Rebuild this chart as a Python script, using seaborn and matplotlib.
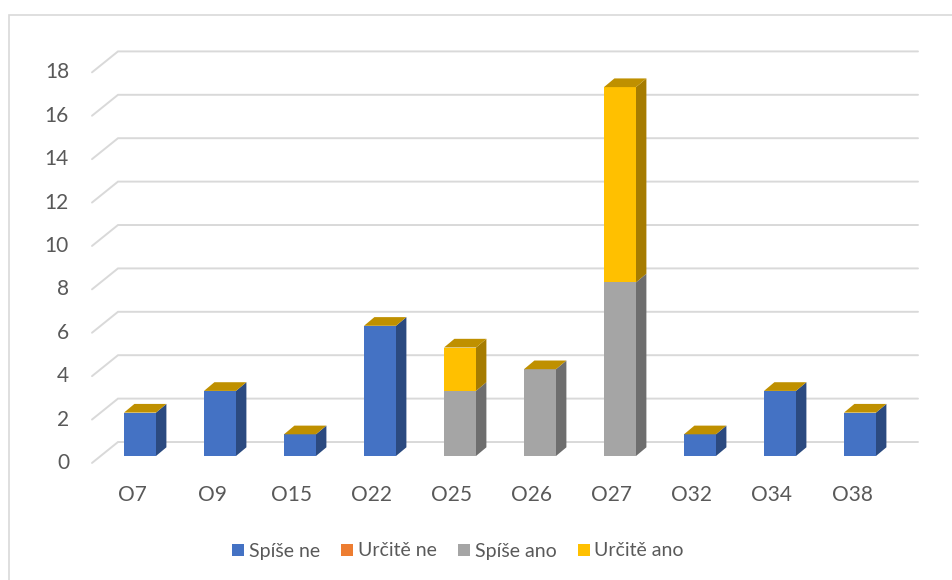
import numpy as np
import pandas as pd
import matplotlib
matplotlib.use("Agg")
import matplotlib.pyplot as plt
from matplotlib.patches import Polygon, Rectangle
from matplotlib.lines import Line2D
import seaborn as sns

# ---- data ----
categories = ["O7", "O9", "O15", "O22", "O25", "O26", "O27", "O32", "O34", "O38"]
spise_ne = [2, 3, 1, 6, 0, 0, 0, 1, 3, 2]
urcite_ne = [0, 0, 0, 0, 0, 0, 0, 0, 0, 0]
spise_ano = [0, 0, 0, 0, 3, 4, 8, 0, 0, 0]
urcite_ano = [0, 0, 0, 0, 2, 0, 9, 0, 0, 0]
series_names = ["Spíše ne", "Určitě ne", "Spíše ano", "Určitě ano"]
y_ticks = [0, 2, 4, 6, 8, 10, 12, 14, 16, 18]

# ---- styling ----
front_colors = ["#4472C4", "#ED7D31", "#A5A5A5", "#FFC000"]
side_colors = ["#2B4A80", "#9E5220", "#6E6E6E", "#A67C00"]
top_color = "#BF9000"
grid_color = "#D9D9D9"
text_color = "#595959"
font = ["Lato", "DejaVu Sans"]
fs = 15

sns.set_theme(style="white")
plt.rcParams["font.family"] = font

W, H = 953, 580
fig = plt.figure(figsize=(W / 100, H / 100), dpi=100)
ax = fig.add_axes([0, 0, 1, 1])

# pixel mapping: x_px = 140 + 80 * x ; y_px = 456 - 21.7 * v
X0, XS = 140.0, 80.0
Y0, YS = 456.0, 21.7
px = lambda p: (p - X0) / XS
py = lambda p: (Y0 - p) / YS

bar_w = 0.4
depth_x, depth_y = 0.13, 0.40          # bar depth (perspective offset)
front_dy, back_dy = -0.32, 0.645      # floor front / back wall offsets
x_front, x_back, x_right = px(92), px(118), px(918)

# back wall gridlines with the side-wall diagonals
for v in y_ticks:
    ax.plot([x_front, x_back, x_right], [v + front_dy, v + back_dy, v + back_dy],
            color=grid_color, lw=1.4, solid_joinstyle="miter", zorder=1)
    ax.text(px(69), v + front_dy, str(v), ha="right", va="center",
            fontsize=fs, color=text_color)

# front faces of the stacked bars
data = pd.DataFrame({"cat": categories, "Spíše ne": spise_ne, "Určitě ne": urcite_ne,
                     "Spíše ano": spise_ano, "Určitě ano": urcite_ano})
bottoms = np.zeros(len(categories))
for name, col in zip(series_names, front_colors):
    vals = data[name].to_numpy(dtype=float)
    sns.barplot(x=data["cat"], y=vals, bottom=bottoms.copy(), color=col,
                width=bar_w, linewidth=0, saturation=1, ax=ax, zorder=3)
    bottoms += vals

# 3D side faces and top faces
xs = np.arange(len(categories))
base = np.zeros(len(categories))
for name, scol in zip(series_names, side_colors):
    vals = data[name].to_numpy(dtype=float)
    for i in xs:
        h = vals[i]
        if h <= 0:
            continue
        b = base[i]
        xr = i + bar_w / 2
        ax.add_patch(Polygon([(xr, b), (xr + depth_x, b + depth_y),
                              (xr + depth_x, b + h + depth_y), (xr, b + h)],
                             closed=True, facecolor=scol, edgecolor="none", zorder=3))
    base += vals
for i in xs:
    t = base[i]
    xl, xr = i - bar_w / 2, i + bar_w / 2
    ax.add_patch(Polygon([(xl, t), (xr, t), (xr + depth_x, t + depth_y),
                          (xl + depth_x, t + depth_y)],
                         closed=True, facecolor=top_color, edgecolor="none", zorder=3))

# category labels
for i, c in enumerate(categories):
    ax.text(i - 0.1, py(495), c, ha="center", va="center", fontsize=fs, color=text_color)

ax.set_xlim(px(0), px(W))
ax.set_ylim(py(H), py(0))
ax.set_axis_off()

# chart frame
fig.patches.append(Rectangle((9 / W, -0.1), 1.2, 1 - 15 / H + 0.1, transform=fig.transFigure,
                             facecolor="none", edgecolor=grid_color, lw=1.2, zorder=0))

handles = [Line2D([], [], marker="s", ls="none", markersize=8.5, markerfacecolor=c,
                  markeredgewidth=0) for c in front_colors]
fig.legend(handles, series_names, loc="center", bbox_to_anchor=(456 / W, 1 - 551 / H),
           ncol=4, frameon=False, fontsize=14, handletextpad=0.05, columnspacing=0.9,
           labelcolor=text_color, handlelength=1.0)

fig.savefig("out.png", dpi=100)
